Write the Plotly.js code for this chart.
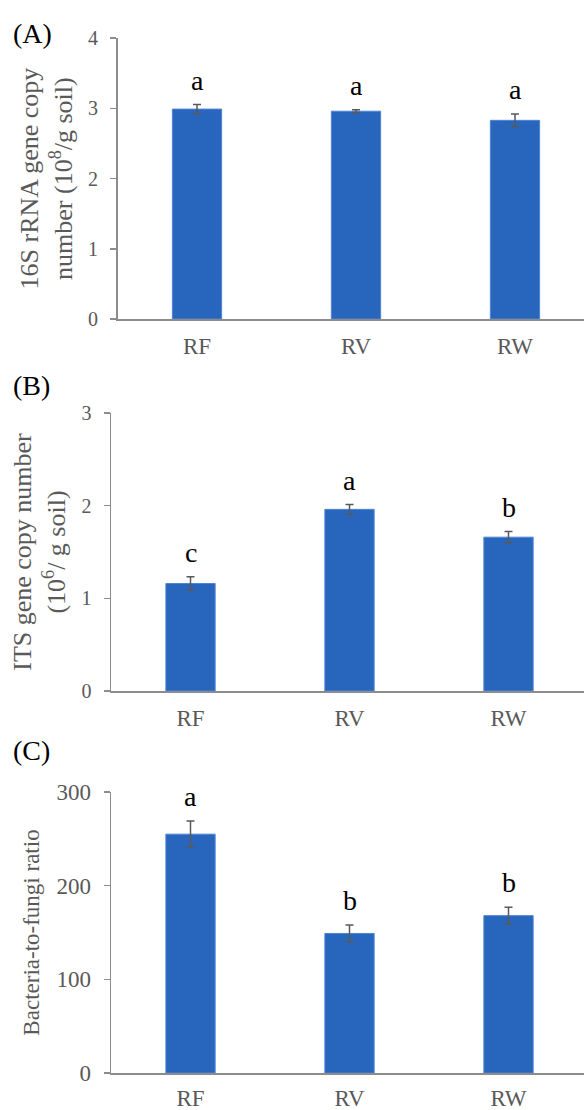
<!DOCTYPE html>
<html>
<head>
<meta charset="utf-8">
<script src="https://cdn.plot.ly/plotly-3.0.1.min.js"></script>
<style>html,body{margin:0;padding:0;background:#fff;}#chart{width:584px;height:1110px;}</style>
</head>
<body>
<div id="chart"></div>
<script>
// ---- data ----
const categories = ['RF', 'RV', 'RW'];
const copy16S = [2.99, 2.96, 2.83];
const err16S = [0.065, 0.02, 0.09];
const letters16S = ['a', 'a', 'a'];
const copyITS = [1.16, 1.96, 1.66];
const errITS = [0.072, 0.052, 0.06];
const lettersITS = ['c', 'a', 'b'];
const ratioBF = [255, 149, 168];
const errRatio = [14, 9, 9];
const lettersRatio = ['a', 'b', 'b'];
const yTicksA = [0, 1, 2, 3, 4];
const yTicksB = [0, 1, 2, 3];
const yTicksC = [0, 100, 200, 300];

// ---- style ----
const W = 584, H = 1110;
const barColor = '#2866BE';
const gray = '#595959';
const axisGray = '#8C8C8C';
const serif = 'Liberation Serif, Times New Roman, serif';

function bar(y, err, xa, ya) {
  return {
    type: 'bar', x: categories, y: y, xaxis: xa, yaxis: ya, width: 0.31,
    marker: {color: barColor, line: {color: '#4F84D2', width: 1}},
    error_y: {type: 'data', array: err, visible: true, color: gray, thickness: 1.5, width: 4},
    showlegend: false, hoverinfo: 'skip'
  };
}

const data = [
  bar(copy16S, err16S, 'x', 'y'),
  bar(copyITS, errITS, 'x2', 'y2'),
  bar(ratioBF, errRatio, 'x3', 'y3')
];

function xax(left, anchor, standoff) {
  return {
    domain: [left / W, 1], range: [-0.5, (W - left) / 159 - 0.5], anchor: anchor,
    showline: true, linecolor: axisGray, linewidth: 1.5, ticks: '', showgrid: false, zeroline: false,
    tickfont: {family: serif, size: 23, color: gray}, ticklabelstandoff: standoff, fixedrange: true
  };
}
function yax(bottomPx, topPx, range, ticks, titleText, titleSize, standoff, tickSize, anchor) {
  return {
    domain: [1 - bottomPx / H, 1 - topPx / H], range: range, anchor: anchor,
    tickvals: ticks, showline: true, linecolor: axisGray, linewidth: 1.5,
    ticks: 'outside', ticklen: 6, tickwidth: 1.5, tickcolor: axisGray,
    showgrid: false, zeroline: false,
    tickfont: {family: serif, size: tickSize, color: gray}, ticklabelstandoff: 8,
    title: {text: titleText, font: {family: serif, size: titleSize, color: gray}, standoff: standoff},
    fixedrange: true
  };
}

const annotations = [];
function addLetters(vals, errs, letters, xref, yref) {
  categories.forEach((c, i) => {
    annotations.push({
      x: c, y: vals[i] + errs[i], xref: xref, yref: yref, text: letters[i],
      showarrow: false, yanchor: 'bottom', yshift: 7,
      font: {family: serif, size: 28, color: '#000'}
    });
  });
}
addLetters(copy16S, err16S, letters16S, 'x', 'y');
addLetters(copyITS, errITS, lettersITS, 'x2', 'y2');
addLetters(ratioBF, errRatio, lettersRatio, 'x3', 'y3');

[['(A)', 33], ['(B)', 385], ['(C)', 750]].forEach(([t, py]) => {
  annotations.push({
    x: 11 / W, y: 1 - py / H, xref: 'paper', yref: 'paper', xanchor: 'left', yanchor: 'middle',
    text: t, showarrow: false, font: {family: serif, size: 28, color: '#000'}
  });
});

const layout = {
  width: W, height: H, margin: {l: 0, r: 0, t: 0, b: 0},
  paper_bgcolor: '#fff', plot_bgcolor: '#fff',
  xaxis: xax(117.5, 'y', 6),
  xaxis2: xax(111, 'y2', 6),
  xaxis3: xax(111, 'y3', 4),
  yaxis: yax(319, 38.2, [0, 4], yTicksA, '16S rRNA gene copy<br>number (10<sup>8</sup>/g soil)', 26, 8, 20, 'x'),
  yaxis2: yax(691, 413, [0, 3], yTicksB, 'ITS gene copy number<br>(10<sup>6</sup>/ g soil)', 26, 8, 20, 'x2'),
  yaxis3: yax(1073, 792, [0, 300], yTicksC, 'Bacteria-to-fungi ratio', 23, 10, 23, 'x3'),
  annotations: annotations,
  showlegend: false
};

Plotly.newPlot('chart', data, layout, {displayModeBar: false, staticPlot: true});
</script>
</body>
</html>
